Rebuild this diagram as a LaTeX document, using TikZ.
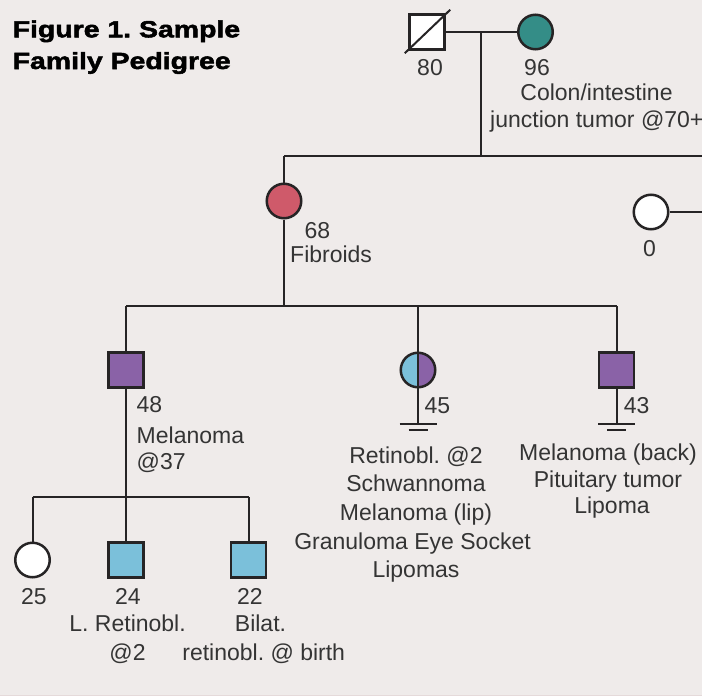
\documentclass[tikz,border=0pt]{standalone}
\usepackage{fontspec}
\usetikzlibrary{calc}
\setmainfont{Liberation Sans}
\newfontfamily\titlefont[FakeBold=2.2, FakeStretch=1.22]{Liberation Sans Bold}
\definecolor{bg}{HTML}{EFEBEA}
\definecolor{edge}{HTML}{E5DADA}
\definecolor{ink}{HTML}{262425}
\definecolor{txt}{HTML}{343434}
\definecolor{teal}{HTML}{348D87}
\definecolor{rose}{HTML}{CF5A6A}
\definecolor{plum}{HTML}{8A62A7}
\definecolor{sky}{HTML}{7BC0DA}
\tikzset{
  person/.style={draw=ink, line width=2.5pt, inner sep=0pt},
  male/.style={person, rectangle, minimum size=35pt},
  female/.style={person, circle, minimum size=34.5pt},
  conn/.style={draw=ink, line width=2pt},
  lbl/.style={inner sep=0pt, text=txt, font=\fontsize{23}{27}\selectfont},
  ttl/.style={inner sep=0pt, text=black, font=\titlefont\fontsize{23.3}{28}\selectfont}
}
\begin{document}
\frenchspacing
\begin{tikzpicture}[x=1pt,y=-1pt]
\fill[bg] (0,0) rectangle (702,696);
\fill[edge] (0,694.5) rectangle (702,696);
\useasboundingbox (0,0) rectangle (702,696);

% title
\node[ttl, anchor=base west] (t1) at (12.5,37.3) {Figure 1. Sample};
\node[ttl, anchor=base west] (t2) at (12.5,69) {Family Pedigree};

% persons
\node[male, fill=white] (p80) at (427,32) {};
\node[female, fill=teal] (p96) at (535.5,32) {};
\node[female, fill=rose] (p68) at (284,201) {};
\node[female, fill=white] (p0) at (651,212) {};
\node[male, fill=plum] (p48) at (126,370) {};
\node[female, path picture={
   \fill[sky] (path picture bounding box.north west) rectangle (path picture bounding box.south);
   \fill[plum] (path picture bounding box.north) rectangle (path picture bounding box.south east);}] (p45) at (418,370) {};
\node[male, fill=plum] (p43) at (616.5,370) {};
\node[female, fill=white] (p25) at (32.5,560) {};
\node[male, fill=sky] (p24) at (126,560) {};
\node[male, fill=sky] (p22) at (248.5,560) {};

% deceased mark
\draw[ink, line width=2pt] ($(p80.south west)+(-3.5,2.5)$) -- ($(p80.north east)+(4.5,-3.5)$);

% coordinates
\coordinate (m1) at (481.3,32);
\coordinate (s1) at (481.3,156);
\coordinate (s1l) at (284,156);
\coordinate (s1r) at (702,156);
\coordinate (p0r) at (702,212);
\coordinate (s2) at (284,306);
\coordinate (s2a) at (126,306);
\coordinate (s2b) at (418,306);
\coordinate (s2c) at (616.5,306);
\coordinate (s3) at (126,497);
\coordinate (s3a) at (32.5,497);
\coordinate (s3c) at (248.5,497);
\coordinate (g45) at (418,424);
\coordinate (g43) at (616.5,424);

% connectors
\draw[conn] (p80.east) -- (p96.west);
\draw[conn] (m1) -- (s1);
\draw[conn] (s1l) -- (s1r);
\draw[conn] (s1l) -- (p68.north);
\draw[conn] (p68.south) -- (s2);
\draw[conn] (p0.east) -- (p0r);
\draw[conn] (s2a) -- (s2c);
\draw[conn] (s2a) -- (p48.north);
\draw[conn] (s2b) -- (p45.north);
\draw[conn] (p45.north) -- (p45.south);
\draw[conn] (s2c) -- (p43.north);
\draw[conn] (p48.south) -- (s3);
\draw[conn] (s3a) -- (s3c);
\draw[conn] (s3a) -- (p25.north);
\draw[conn] (s3) -- (p24.north);
\draw[conn] (s3c) -- (p22.north);
\draw[conn] (p45.south) -- (g45);
\draw[conn] (g45) ++(-18.5,0) -- ++(37,0);
\draw[conn] ($(g45)+(-9.5,6)$) -- ++(19,0);
\draw[conn] (p43.south) -- (g43);
\draw[conn] (g43) ++(-18.5,0) -- ++(37,0);
\draw[conn] ($(g43)+(-9.5,6)$) -- ++(19,0);

% labels
\node[lbl, anchor=base] (l80) at (430,75) {80};
\node[lbl, anchor=base] (l96) at (537,75) {96};
\node[lbl, anchor=base] (l96a) at (596.5,100) {Colon/intestine};
\node[lbl, anchor=base west] (l96b) at (490,127.5) {junction tumor @70+};
\node[lbl, anchor=base] (l68) at (317.5,238) {68};
\node[lbl, anchor=base west] (l68a) at (290,262) {Fibroids};
\node[lbl, anchor=base] (l0) at (649.5,256) {0};
\node[lbl, anchor=base west] (l48) at (136.5,412.7) {48};
\node[lbl, anchor=base west] (l48a) at (136.5,443) {Melanoma};
\node[lbl, anchor=base west] (l48b) at (136.5,469) {@37};
\node[lbl, anchor=base west] (l45) at (424.4,413) {45};
\node[lbl, anchor=base west] (l43) at (623.6,413) {43};
\node[lbl, anchor=base] (l45a) at (416,463) {Retinobl. @2};
\node[lbl, anchor=base] (l45b) at (416,491.7) {Schwannoma};
\node[lbl, anchor=base] (l45c) at (416,520.4) {Melanoma (lip)};
\node[lbl, anchor=base] (l45d) at (412.5,549) {Granuloma Eye Socket};
\node[lbl, anchor=base] (l45e) at (416,577.8) {Lipomas};
\node[lbl, anchor=base] (l43a) at (608,460) {Melanoma (back)};
\node[lbl, anchor=base] (l43b) at (608,487) {Pituitary tumor};
\node[lbl, anchor=base] (l43c) at (612,513) {Lipoma};
\node[lbl, anchor=base] (l25) at (34,604) {25};
\node[lbl, anchor=base] (l24) at (128,604) {24};
\node[lbl, anchor=base] (l22) at (250,604) {22};
\node[lbl, anchor=base] (l24a) at (127.6,631.7) {L. Retinobl.};
\node[lbl, anchor=base] (l24b) at (127.5,660) {@2};
\node[lbl, anchor=base] (l22a) at (260.5,631.7) {Bilat.};
\node[lbl, anchor=base] (l22b) at (263.7,660) {retinobl. @ birth};
\end{tikzpicture}
\end{document}
